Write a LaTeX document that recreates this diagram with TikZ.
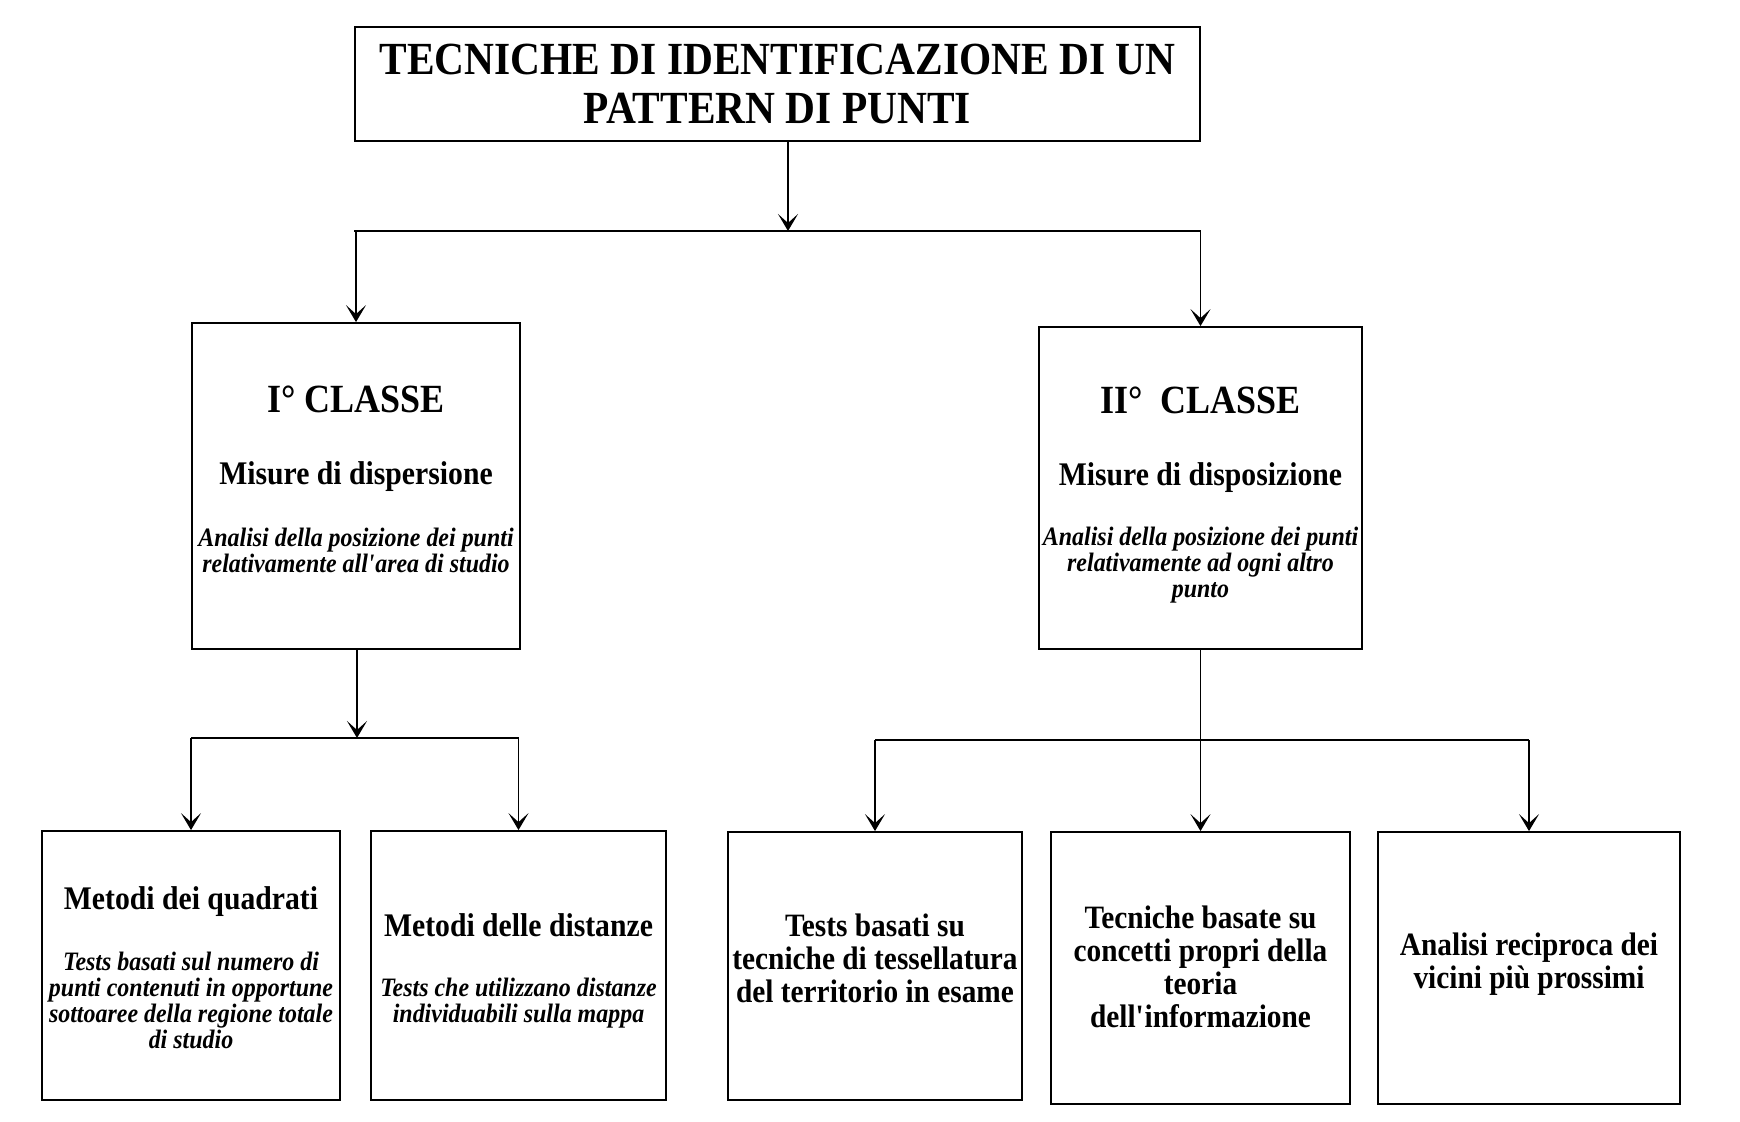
\documentclass[tikz,border=0pt]{standalone}
\usepackage{fontspec}
\setmainfont{Liberation Serif}[FakeStretch=0.9]
\usetikzlibrary{arrows.meta}

\tikzset{
  box/.style={draw, line width=0.9pt, inner sep=0pt},
  filo/.style={line width=0.8pt},
  conn/.style={line width=0.8pt, -{Stealth[length=8.5pt,width=10pt,inset=4.5pt]}},
  classe/.style={align=center, inner sep=0pt, font=\fontsize{13.3}{13}\selectfont\bfseries},
  metodo/.style={align=center, inner sep=0pt, font=\fontsize{16.3}{16.5}\selectfont\bfseries}
}
\newcommand{\capo}{\fontsize{20}{13}\selectfont}
\newcommand{\sotto}{\fontsize{16.5}{13}\selectfont}
\newcommand{\apo}{\textquotesingle}

\begin{document}
\begin{tikzpicture}[x=0.5pt, y=-0.5pt]
\useasboundingbox (0,0) rectangle (1740,1122);

\node[box, minimum width=422.5pt, minimum height=57pt, align=center, inner sep=2pt,
  font=\fontsize{23}{24.5}\selectfont\bfseries] (titolo) at (777.5,84)
  {TECNICHE DI IDENTIFICAZIONE DI UN\\PATTERN DI PUNTI};

\node[box, minimum width=164pt, minimum height=163pt] (classe1) at (356,486) {};
\node[classe] (classe1t) at (356,479.3)
  {{\capo I° CLASSE}\\[23pt]{\sotto Misure di dispersione}\\[18pt]
   \itshape Analisi della posizione dei punti\\\itshape relativamente all\apo area di studio};
\node[box, minimum width=161.5pt, minimum height=161pt] (classe2) at (1200.5,488) {};
\node[classe] (classe2t) at (1200.5,495.2)
  {{\capo II°\ \ CLASSE}\\[23pt]{\sotto Misure di disposizione}\\[17pt]
   \itshape Analisi della posizione dei punti\\\itshape relativamente ad ogni altro\\\itshape punto};

\node[box, minimum width=149pt, minimum height=134.5pt] (quadrati) at (191,965.5) {};
\node[classe] (quadratit) at (191,967.7)
  {{\sotto Metodi dei quadrati}\\[17.3pt]
   \itshape Tests basati sul numero di\\\itshape punti contenuti in opportune\\\itshape sottoaree della regione totale\\\itshape di studio};
\node[box, minimum width=147.5pt, minimum height=134.5pt] (distanze) at (518.5,965.5) {};
\node[classe] (distanzet) at (518.5,971)
  {{\sotto Metodi delle distanze}\\[17.3pt]
   \itshape Tests che utilizzano distanze\\\itshape individuabili sulla mappa};

\node[box, minimum width=147pt, minimum height=134pt] (tessel) at (875,966) {};
\node[metodo] (tesselt) at (875,958.2)
  {Tests basati su\\tecniche di tessellatura\\del territorio in esame};
\node[box, minimum width=149.5pt, minimum height=136pt] (inform) at (1200.5,968) {};
\node[metodo] (informt) at (1200.5,967)
  {Tecniche basate su\\concetti propri della\\teoria\\dell\apo informazione};
\node[box, minimum width=151pt, minimum height=136pt] (vicini) at (1529,968) {};
\node[metodo] (vicinit) at (1529,964)
  {Analisi reciproca dei\\vicini più prossimi};

\coordinate (ramo1) at (788,231);
\coordinate (ramo2) at (357,738);
\coordinate (ramo3) at (1200.5,740);

\draw[conn] (titolo.south -| ramo1) -- (ramo1);
\draw[filo] (titolo.west |- ramo1) -- (titolo.east |- ramo1);
\draw[conn] (classe1.north |- ramo1) -- (classe1.north);
\draw[conn] (classe2.north |- ramo1) -- (classe2.north);

\draw[conn] (classe1.south -| ramo2) -- (ramo2);
\draw[filo] (quadrati.north |- ramo2) -- (distanze.north |- ramo2);
\draw[conn] (quadrati.north |- ramo2) -- (quadrati.north);
\draw[conn] (distanze.north |- ramo2) -- (distanze.north);

\draw[conn] (classe2.south) -- (inform.north);
\draw[filo] (tessel.north |- ramo3) -- (vicini.north |- ramo3);
\draw[conn] (tessel.north |- ramo3) -- (tessel.north);
\draw[conn] (vicini.north |- ramo3) -- (vicini.north);
\end{tikzpicture}
\end{document}
